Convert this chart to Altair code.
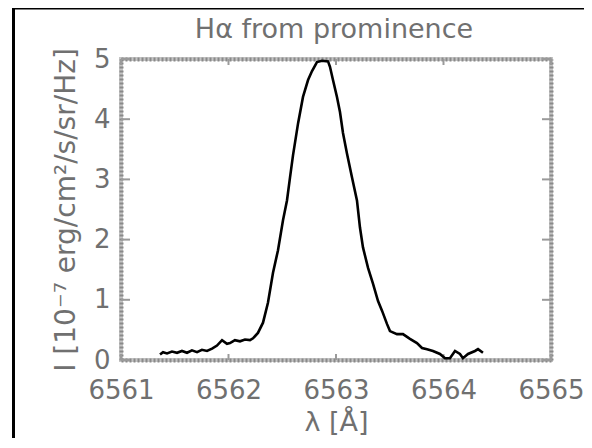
import altair as alt
import pandas as pd

# Wavelength (Angstrom) and intensity (1e-7 erg/cm2/s/sr/Hz)
wavelength = [
    6561.363, 6561.391, 6561.428, 6561.474, 6561.521, 6561.567, 6561.614, 6561.660,
    6561.707, 6561.753, 6561.800, 6561.847, 6561.893, 6561.940, 6561.986, 6562.014,
    6562.060, 6562.107, 6562.153, 6562.200, 6562.228, 6562.274, 6562.321, 6562.367,
    6562.414, 6562.460, 6562.507, 6562.544, 6562.572, 6562.600, 6562.647, 6562.693,
    6562.740, 6562.777, 6562.823, 6562.870, 6562.926, 6562.944, 6562.972, 6563.009,
    6563.037, 6563.065, 6563.102, 6563.149, 6563.195, 6563.223, 6563.251, 6563.298,
    6563.344, 6563.391, 6563.428, 6563.474, 6563.502, 6563.567, 6563.623, 6563.688,
    6563.753, 6563.800, 6563.847, 6563.902, 6563.967, 6564.014, 6564.060, 6564.107,
    6564.153, 6564.181, 6564.228, 6564.293, 6564.321, 6564.367,
]
intensity = [
    0.09, 0.13, 0.11, 0.14, 0.12, 0.15, 0.12, 0.16,
    0.13, 0.17, 0.15, 0.19, 0.24, 0.33, 0.27, 0.28,
    0.33, 0.31, 0.34, 0.33, 0.36, 0.45, 0.62, 0.95,
    1.45, 1.82, 2.32, 2.65, 3.03, 3.40, 3.93, 4.37,
    4.65, 4.80, 4.95, 4.97, 4.96, 4.87, 4.65, 4.37,
    4.12, 3.77, 3.43, 3.03, 2.65, 2.20, 1.87, 1.53,
    1.27, 0.98, 0.82, 0.60, 0.48, 0.43, 0.43, 0.35,
    0.28, 0.20, 0.18, 0.15, 0.10, 0.03, 0.03, 0.15,
    0.10, 0.03, 0.10, 0.15, 0.18, 0.12,
]
x_ticks = [6561, 6562, 6563, 6564, 6565]
y_ticks = [0, 1, 2, 3, 4, 5]

title_text = ["Hα from prominence"]
x_title = "λ [Å]"
y_title = "I [10⁻⁷ erg/cm²/s/sr/Hz]"

W, H = 430, 301
FONT = "DejaVu Sans"
TXT = "#707070"

df = pd.DataFrame({"lam": wavelength, "I": intensity})
xscale = alt.Scale(domain=[6561, 6565], nice=False, zero=False)
yscale = alt.Scale(domain=[0, 5.0], nice=False, zero=False)

axis_common = dict(
    domainColor="#8a8a8a", domainWidth=4, domainDash=[2, 2],
    ticks=False, tickSize=0, grid=False,
    labelFont=FONT, labelColor=TXT, labelFontSize=26,
    titleFont=FONT, titleColor=TXT, titleFontWeight="normal",
)

line = alt.Chart(df).mark_line(color="black", strokeWidth=2.6).encode(
    x=alt.X("lam:Q", scale=xscale, axis=alt.Axis(
        orient="bottom", values=x_ticks, format="d", labelPadding=17,
        title=x_title, titleFontSize=27, titleX=W / 2, titleY=62,
        titleBaseline="middle", titleAlign="center", labelFlush=False,
        **axis_common)),
    y=alt.Y("I:Q", scale=yscale, axis=alt.Axis(
        orient="left", values=y_ticks, format="d", labelPadding=11,
        title=y_title, titleFontSize=28, titleX=-55, titleY=H / 2,
        titleAngle=270, titleBaseline="middle", titleAlign="center",
        labelFlush=False, **axis_common)),
)

ghost = alt.Chart(df).mark_line(opacity=0).encode(
    x=alt.X("lam:Q", scale=xscale, axis=alt.Axis(
        orient="top", values=x_ticks, labels=False, title=None, **axis_common)),
    y=alt.Y("I:Q", scale=yscale, axis=alt.Axis(
        orient="right", values=y_ticks, labels=False, title=None, **axis_common)),
)

ydf = pd.DataFrame({"I": y_ticks})
xdf = pd.DataFrame({"lam": x_ticks})
tick_style = dict(color="#9a9a9a", strokeWidth=2)
yt_left = alt.Chart(ydf).mark_rule(**tick_style).encode(
    y=alt.Y("I:Q", scale=yscale, axis=None), x=alt.value(0), x2=alt.value(9))
yt_right = alt.Chart(ydf).mark_rule(**tick_style).encode(
    y=alt.Y("I:Q", scale=yscale, axis=None), x=alt.value(W - 9), x2=alt.value(W))
xt_bot = alt.Chart(xdf).mark_rule(**tick_style).encode(
    x=alt.X("lam:Q", scale=xscale, axis=None), y=alt.value(H - 6), y2=alt.value(H))
xt_top = alt.Chart(xdf).mark_rule(**tick_style).encode(
    x=alt.X("lam:Q", scale=xscale, axis=None), y=alt.value(0), y2=alt.value(6))

title = alt.Chart(pd.DataFrame({"t": title_text})).mark_text(
    font=FONT, fontSize=27, color=TXT, baseline="alphabetic", align="center"
).encode(text="t:N", x=alt.value(W / 2 - 2), y=alt.value(-21))

# black picture frame (left and top edges)
frame_df = pd.DataFrame({"k": [0]})
frame_left = alt.Chart(frame_df).mark_rule(color="black", strokeWidth=3).encode(
    x=alt.value(-107.5), y=alt.value(-52), y2=alt.value(390))
frame_top = alt.Chart(frame_df).mark_rule(color="black", strokeWidth=3).encode(
    x=alt.value(-109), x2=alt.value(470), y=alt.value(-51))

chart = alt.layer(
    xt_bot, xt_top, yt_left, yt_right, line, ghost, title, frame_left, frame_top
).resolve_axis(x="independent", y="independent").properties(
    width=W, height=H,
    autosize=alt.AutoSizeParams(type="none"),
    padding={"left": 113, "top": 51, "right": 33, "bottom": 78},
).configure_view(stroke="#c4c4c4", strokeWidth=4)

chart.save("out.html", embed_options={"renderer": "svg", "actions": False})
